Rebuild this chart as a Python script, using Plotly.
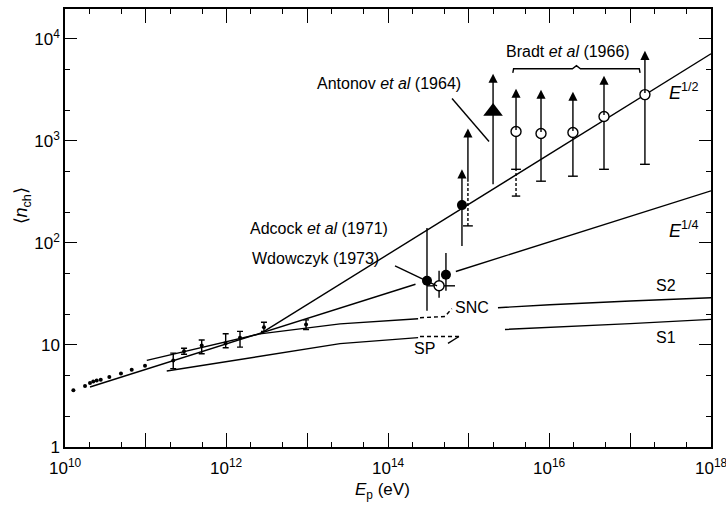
import numpy as np
import plotly.graph_objects as go

# ---- data -----------------------------------------------------------------
# low-energy multiplicities (points without error bars)
low_E = [1.27e10, 1.77e10, 2.04e10, 2.24e10, 2.47e10, 2.77e10, 3.54e10, 4.93e10, 6.70e10, 9.79e10]
low_n = [3.60, 3.96, 4.24, 4.38, 4.48, 4.57, 4.85, 5.24, 5.73, 6.27]

# accelerator points with error bars
acc_E = [2.19e11, 2.98e11, 4.93e11, 9.77e11, 1.47e12, 2.91e12, 9.66e12]
acc_n = [7.06, 8.70, 9.89, 10.4, 11.75, 14.9, 15.85]
acc_hi = [8.32, 9.3, 11.2, 12.9, 13.6, 16.7, 17.6]
acc_lo = [5.86, 8.1, 8.21, 9.39, 9.52, 13.6, 14.2]

# power-law lines (segment end points)
e14_E = [[2.04e10, 2.19e14], [6.92e14, 1e18]]
e14_n = [[3.87, 39.4], [52.5, 324]]
e12_E = [2.60e12, 1e18]
e12_n = [12.85, 7145]

# model curves
s2l_E = [1.03e11, 2.60e12, 2.55e13, 2.36e14]
s2l_n = [7.06, 12.86, 16.1, 18.1]
s2r_E = [2.30e15, 1.01e16, 1e17, 1e18]
s2r_n = [23.2, 24.8, 27.0, 29.0]
s1l_E = [1.82e11, 2.55e13, 2.36e14]
s1l_n = [5.55, 10.3, 11.8]
s1r_E = [2.81e15, 1.01e16, 1e17, 1e18]
s1r_n = [14.2, 14.8, 16.2, 17.8]
snc_E = [2.49e14, 5.08e14, 6.17e14]
snc_n = [18.5, 19.0, 22.7]
sp_E = [2.49e14, 7.57e14]
sp_n = [12.1, 12.1]

# Adcock et al (1971)
adc_E = [3.04e14, 5.22e14]
adc_n = [42.6, 48.7]
adc_hi = [140, 79.9]
adc_lo = [21.7, 34.0]
# Wdowczyk (1973)
wdo_E = 4.29e14
wdo_n = 38.0
wdo_nhi, wdo_nlo = 53.3, 29.1
wdo_Elo, wdo_Ehi = 3.04e14, 6.76e14
# Antonov et al (1964)
ant_E = 8.24e14
ant_n = 235
ant_top, ant_lo = 527, 93.5
ant2_E = 9.77e14
ant2_base, ant2_top, ant2_lo = 385, 1324, 147
tri_E = 2.0e15
tri_n = 1940
tri_top, tri_lo = 4560, 377
# Bradt et al (1966)
bra_E = [3.85e15, 7.85e15, 1.95e16, 4.73e16, 1.52e17]
bra_n = [1238, 1183, 1210, 1734, 2843]
bra_top = [3251, 3180, 3040, 4357, 7640]
bra_lo = [527, 403, 451, 527, 590]
bra_ext = 288  # dashed extension of the first bar

x_ticks = [1e10, 1e12, 1e14, 1e16, 1e18]
x_ticktext = ["10<sup>10</sup>", "10<sup>12</sup>", "10<sup>14</sup>", "10<sup>16</sup>", "10<sup>18</sup>"]
y_ticks = [1, 10, 100, 1000, 10000]
y_ticktext = ["1", "10", "10<sup>2</sup>", "10<sup>3</sup>", "10<sup>4</sup>"]

# ---- figure ---------------------------------------------------------------
INK = "black"
FONT = "Liberation Sans"
LW = 1.4
fig = go.Figure()


def line(xs, ys, dash="solid", width=LW):
    fig.add_trace(go.Scatter(x=xs, y=ys, mode="lines",
                             line=dict(color=INK, width=width, dash=dash),
                             hoverinfo="skip", showlegend=False))


def cap(xs, ys, size=8):
    fig.add_trace(go.Scatter(x=xs, y=ys, mode="markers",
                             marker=dict(symbol="line-ew", size=size,
                                         line=dict(color=INK, width=LW)),
                             hoverinfo="skip", showlegend=False))


def up_arrow(xv, base, top):
    fig.add_annotation(x=np.log10(xv), y=np.log10(top), ax=np.log10(xv), ay=np.log10(base),
                       xref="x", yref="y", axref="x", ayref="y", text="",
                       showarrow=True, arrowhead=2, arrowsize=1.3, arrowwidth=LW,
                       arrowcolor=INK, standoff=0, startstandoff=0)


# lines
for xs, ys in zip(e14_E, e14_n):
    line(xs, ys)
line(e12_E, e12_n)
line(s2l_E, s2l_n)
line(s2r_E, s2r_n)
line(s1l_E, s1l_n)
line(s1r_E, s1r_n)
line(snc_E, snc_n, dash="4px,3px")
line(sp_E, sp_n, dash="4px,3px")

# low-energy dots
fig.add_trace(go.Scatter(x=low_E, y=low_n, mode="markers",
                         marker=dict(color=INK, size=4), hoverinfo="skip", showlegend=False))

# accelerator points
fig.add_trace(go.Scatter(
    x=acc_E, y=acc_n, mode="markers",
    marker=dict(color=INK, size=4),
    error_y=dict(type="data", symmetric=False,
                 array=[h - n for h, n in zip(acc_hi, acc_n)],
                 arrayminus=[n - l for n, l in zip(acc_n, acc_lo)],
                 color=INK, thickness=LW, width=3),
    hoverinfo="skip", showlegend=False))

# Adcock et al
for e, n, h, l in zip(adc_E, adc_n, adc_hi, adc_lo):
    line([e, e], [l, h])
fig.add_trace(go.Scatter(x=adc_E, y=adc_n, mode="markers",
                         marker=dict(color=INK, size=10), hoverinfo="skip", showlegend=False))

# Wdowczyk
line([wdo_E, wdo_E], [wdo_nlo, wdo_nhi])
line([wdo_Elo, wdo_Ehi], [wdo_n, wdo_n])
fig.add_trace(go.Scatter(x=[wdo_E], y=[wdo_n], mode="markers",
                         marker=dict(color="white", size=10, line=dict(color=INK, width=LW)),
                         hoverinfo="skip", showlegend=False))

# Antonov et al
line([ant_E, ant_E], [ant_lo, ant_n])
up_arrow(ant_E, ant_n, ant_top)
fig.add_trace(go.Scatter(x=[ant_E], y=[ant_n], mode="markers",
                         marker=dict(color=INK, size=10), hoverinfo="skip", showlegend=False))
up_arrow(ant2_E, ant2_base, ant2_top)
line([ant2_E, ant2_E], [ant2_lo, ant2_base], dash="3px,2px")
cap([ant2_E], [ant2_lo], size=7)
line([tri_E, tri_E], [tri_lo, tri_n])
up_arrow(tri_E, tri_n, tri_top)
fig.add_trace(go.Scatter(x=[tri_E], y=[tri_n], mode="markers",
                         marker=dict(color=INK, size=17, symbol="triangle-up"),
                         hoverinfo="skip", showlegend=False))

# Bradt et al
for e, n, t, l in zip(bra_E, bra_n, bra_top, bra_lo):
    line([e, e], [l, n])
    up_arrow(e, n, t)
cap(bra_E, bra_lo, size=7)
line([bra_E[0], bra_E[0]], [bra_ext, bra_lo[0]], dash="3px,2px")
cap([bra_E[0]], [bra_ext], size=6)
fig.add_trace(go.Scatter(x=bra_E, y=bra_n, mode="markers",
                         marker=dict(color="white", size=10, line=dict(color=INK, width=LW)),
                         hoverinfo="skip", showlegend=False))

# bracket over the Bradt points
bl, br = np.log10(bra_E[0]) - 0.04, np.log10(bra_E[-1]) - 0.06
bm = 0.5 * (bl + br)
by = 3.707
fig.add_trace(go.Scatter(
    x=[10 ** v for v in [bl, bl + 0.01, bm - 0.05, bm, bm + 0.05, br - 0.01, br]],
    y=[10 ** v for v in [by - 0.04, by, by, by + 0.03, by, by, by - 0.04]],
    mode="lines", line=dict(color=INK, width=LW), hoverinfo="skip", showlegend=False))

# leader lines for labels
for (x0, y0, x1, y1) in [(14.793, 3.415, 15.251, 2.995),
                         (14.087, 1.776, 14.607, 1.580),
                         (14.743, 1.015, 14.879, 1.083)]:
    fig.add_trace(go.Scatter(x=[10 ** x0, 10 ** x1], y=[10 ** y0, 10 ** y1], mode="lines",
                             line=dict(color=INK, width=LW), hoverinfo="skip", showlegend=False))

# ---- text -----------------------------------------------------------------


def label(x, y, text, xanchor="left", size=16):
    fig.add_annotation(x=x, y=y, xref="x", yref="y", text=text, showarrow=False,
                       xanchor=xanchor, yanchor="middle",
                       font=dict(family=FONT, size=size, color=INK))


label(14.93, 3.561, "Antonov <i>et al</i> (1964)", xanchor="right")
label(16.23, 3.873, "Bradt <i>et al</i> (1966)", xanchor="center")
label(12.27, 2.137, "Adcock <i>et al</i> (1971)")
label(12.29, 1.844, "Wdowczyk (1973)")
label(17.45, 3.483, "<i>E</i><sup>1/2</sup>", size=18)
label(17.45, 2.13, "<i>E</i><sup>1/4</sup>", size=18)
label(17.30, 1.58, "S2")
label(17.30, 1.07, "S1")
label(14.80, 1.365, "SNC")
label(14.30, 0.97, "SP")

# x tick labels (drawn as text so the last one may overhang the frame)
for v, t in zip(x_ticks, x_ticktext):
    fig.add_annotation(x=np.log10(v), y=-0.046, xref="x", yref="paper", text=t,
                       showarrow=False, xanchor="center", yanchor="middle",
                       font=dict(family=FONT, size=17, color=INK))

fig.add_annotation(x=-0.066, y=0.55, xref="paper", yref="paper", textangle=-90,
                   xanchor="center", yanchor="middle",
                   text="⟨<i>n</i><sub>ch</sub>⟩", showarrow=False,
                   font=dict(family=FONT, size=18, color=INK))
fig.add_annotation(x=0.492, y=-0.10, xref="paper", yref="paper",
                   xanchor="center", yanchor="middle",
                   text="<i>E</i><sub>p</sub> (eV)", showarrow=False,
                   font=dict(family=FONT, size=17, color=INK))

minor_x = [m * 10 ** k for k in range(10, 18) for m in (2, 5)]
minor_y = [m * 10 ** k for k in range(0, 5) for m in (2, 5) if m * 10 ** k < 19000]

axis_common = dict(type="log", showgrid=False, zeroline=False, showline=True,
                   linecolor=INK, linewidth=1.5, mirror="ticks",
                   ticks="inside", tickcolor=INK, tickwidth=1.3,
                   tickfont=dict(family=FONT, size=17, color=INK))

fig.update_xaxes(**axis_common, range=[10, 18], tickmode="array",
                 tickvals=[10 ** k for k in range(10, 19)],
                 showticklabels=False, ticklen=14,
                 minor=dict(tickmode="array", tickvals=minor_x, ticks="inside",
                            ticklen=5, tickcolor=INK, tickwidth=1.2))
fig.update_yaxes(**axis_common, range=[0, 4.293], tickmode="array",
                 tickvals=y_ticks, ticktext=y_ticktext, ticklen=12,
                 minor=dict(tickmode="array", tickvals=minor_y, ticks="inside",
                            ticklen=5, tickcolor=INK, tickwidth=1.2))

fig.update_layout(width=726, height=506, margin=dict(l=65, r=15, t=7, b=59),
                  plot_bgcolor="white", paper_bgcolor="white", showlegend=False,
                  font=dict(family=FONT, color=INK))

fig.write_html("out.html")
